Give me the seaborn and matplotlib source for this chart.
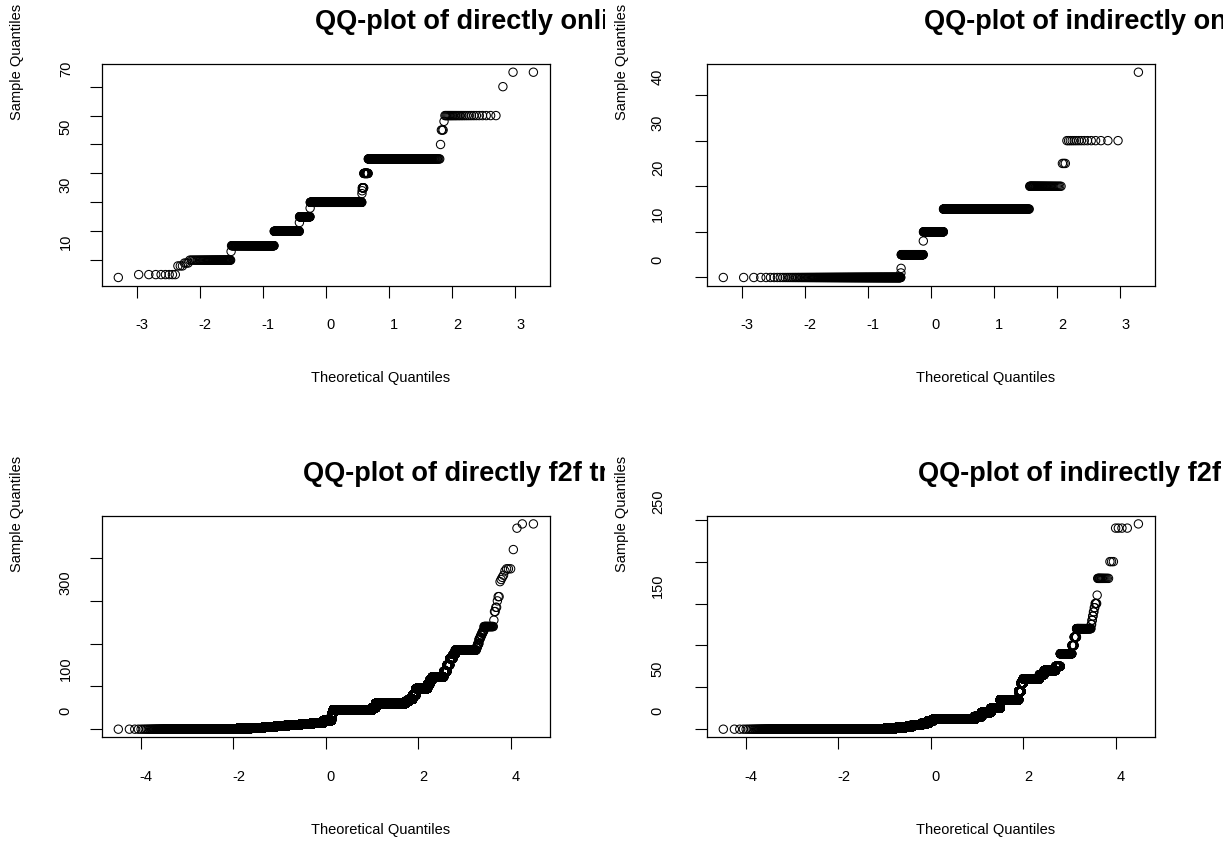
import numpy as np
import pandas as pd
import seaborn as sns
import matplotlib
matplotlib.use("Agg")
import matplotlib.pyplot as plt
from matplotlib.transforms import ScaledTranslation, Bbox, TransformedBbox
from statistics import NormalDist

# ---------------- data (distinct sample values and how often each occurs) ----------------
online_direct_values = [4, 5, 8, 9, 10, 13, 15, 20, 23, 25, 28, 30, 33, 34, 35, 40, 45, 50, 55, 58, 60, 70, 75]
online_direct_counts = [1, 8, 3, 3, 51, 1, 139, 131, 1, 63, 1, 314, 1, 1, 8, 23, 216, 1, 3, 1, 27, 1, 2]

online_indirect_values = [0, 1, 2, 5, 8, 10, 15, 20, 25, 30, 45]
online_indirect_counts = [317, 1, 1, 133, 1, 126, 362, 40, 3, 15, 1]

f2f_direct_values = [0, 1, 2, 3, 5, 7, 10, 12, 15, 20, 30, 38, 45, 50, 60, 65, 70, 80, 95, 105,
                     115, 122, 135, 150, 165, 175, 185, 190, 195, 200, 210, 215, 220, 225, 230,
                     240, 255, 275, 285, 300, 310, 345, 350, 355, 360, 370, 375, 420, 470, 480]
f2f_direct_counts = [1946, 2075, 3651, 4719, 6603, 8678, 13090, 12731, 13715, 9478, 1108, 1104,
                     38890, 2602, 13629, 951, 823, 624, 1637, 235, 210, 746, 139, 101, 98, 59, 278,
                     5, 4, 6, 5, 4, 4, 4, 4, 24, 1, 2, 2, 1, 2, 1, 1, 1, 1, 1, 3, 1, 1, 2]

f2f_indirect_values = [0, 1, 2, 3, 5, 7, 10, 12, 15, 20, 25, 35, 45, 55, 60, 65, 70, 75, 90, 100,
                       110, 120, 125, 130, 135, 140, 145, 150, 160, 180, 200, 240, 245]
f2f_indirect_counts = [22212, 9516, 9034, 7479, 10663, 8304, 5584, 43260, 4954, 5442, 4199, 5332,
                       438, 398, 1870, 315, 514, 128, 198, 24, 22, 77, 2, 2, 2, 2, 2, 4, 1, 14, 3, 4, 1]

titles = ["QQ-plot of directly online transactions",
          "QQ-plot of indirectly online transactions",
          "QQ-plot of directly f2f transactions",
          "QQ-plot of indirectly f2f transactions"]
x_label = "Theoretical Quantiles"
y_label = "Sample Quantiles"

xticks_top = [-3, -2, -1, 0, 1, 2, 3]
xticks_bottom = [-4, -2, 0, 2, 4]
yticks_tl = [10, 20, 30, 40, 50, 60, 70]
ylabels_tl = ["10", "", "30", "", "50", "", "70"]
yticks_tr = [0, 10, 20, 30, 40]
ylabels_tr = ["0", "10", "20", "30", "40"]
yticks_bl = [0, 100, 200, 300, 400]
ylabels_bl = ["0", "100", "", "300", ""]
yticks_br = [0, 50, 100, 150, 200, 250]
ylabels_br = ["0", "50", "", "150", "", "250"]

# ---------------- layout ----------------
W, H, DPI = 1223, 845, 100
sns.set_theme(style="ticks")
plt.rcParams["font.family"] = ["Liberation Sans", "DejaVu Sans"]

fig = plt.figure(figsize=(W / DPI, H / DPI), dpi=DPI)
fig.patch.set_facecolor("white")

def fx(x):
    return x / W

def fy(y):
    return 1 - y / H

def rect(x0, y0, x1, y1):
    return [x0 / W, 1 - y1 / H, (x1 - x0) / W, (y1 - y0) / H]

def r_qq(values, counts):
    y = np.sort(np.repeat(np.asarray(values, float), counts))
    n = len(y)
    a = 3 / 8 if n <= 10 else 0.5
    p = (np.arange(1, n + 1) - a) / (n + 1 - 2 * a)
    nd = NormalDist()
    x = np.array([nd.inv_cdf(float(pi)) for pi in p])
    return x, y

def r_lim(v):
    lo, hi = float(np.min(v)), float(np.max(v))
    d = 0.04 * (hi - lo)
    return lo - d, hi + d

ROW_DY = 451.7
COL_DX = 605.0
panels = [
    dict(v=online_direct_values, c=online_direct_counts, col=0, row=0, xt=xticks_top, yt=yticks_tl, yl=ylabels_tl, ypad=17),
    dict(v=online_indirect_values, c=online_indirect_counts, col=1, row=0, xt=xticks_top, yt=yticks_tr, yl=ylabels_tr, ypad=30),
    dict(v=f2f_direct_values, c=f2f_direct_counts, col=0, row=1, xt=xticks_bottom, yt=yticks_bl, yl=ylabels_bl, ypad=17),
    dict(v=f2f_indirect_values, c=f2f_indirect_counts, col=1, row=1, xt=xticks_bottom, yt=yticks_br, yl=ylabels_br, ypad=30),
]

title_x = [315, 924, 303, 918]

for i, p in enumerate(panels):
    dx = COL_DX * p["col"]
    dy = ROW_DY * p["row"]
    x0, x1 = 101.7 + dx, 550 + dx
    y0, y1 = 65 + dy, 286.7 + dy
    ax = fig.add_axes(rect(x0, y0, x1, y1))
    qx, qy = r_qq(p["v"], p["c"])
    sns.scatterplot(x=qx, y=qy, ax=ax, marker="o", s=36, linewidth=0.75,
                    edgecolor="black", legend=False)
    coll = ax.collections[-1]
    coll.set_facecolor("none")
    coll.set_edgecolor("black")
    ax.set_xlim(*r_lim(qx))
    ax.set_ylim(*r_lim(qy))
    ax.set_xticks(p["xt"])
    ax.set_xticklabels([str(t) for t in p["xt"]])
    ax.set_yticks(p["yt"])
    ax.set_yticklabels(p["yl"], rotation=90, va="center")
    ax.set_xlabel("")
    ax.set_ylabel("")
    ax.tick_params(axis="both", direction="out", length=8.6, width=0.8, color="black",
                   labelsize=10.5, labelcolor="black")
    ax.tick_params(axis="x", pad=14)
    ax.tick_params(axis="y", pad=p["ypad"] * 0.72)
    for s in ax.spines.values():
        s.set_visible(True)
        s.set_color("black")
        s.set_linewidth(0.9)
    ax.set_facecolor("white")
    for lbl in ax.get_yticklabels():
        lbl.set_transform(lbl.get_transform() + ScaledTranslation(0, 19 / DPI, fig.dpi_scale_trans))
    for lbl in ax.get_xticklabels():
        lbl.set_transform(lbl.get_transform() + ScaledTranslation(5 / DPI, 0, fig.dpi_scale_trans))

    # axis titles
    fig.text(fx(381 + dx), fy(378 + dy), x_label, ha="center", va="center", fontsize=10.5, color="black")
    fig.text(fx(17 + dx), fy(62 + dy), y_label, ha="center", va="center", rotation=90, fontsize=10.5, color="black")
    t = fig.text(fx(title_x[i]), fy(22 + dy), titles[i], ha="left", va="center",
                 fontsize=19.5, fontweight="bold", color="black")
    clip = TransformedBbox(Bbox.from_extents(fx(dx), 0, fx(dx + COL_DX) if p["col"] == 0 else 1, 1), fig.transFigure)
    t.set_clip_box(clip)
    t.set_clip_on(True)

fig.savefig("out.png", dpi=DPI, facecolor="white")
